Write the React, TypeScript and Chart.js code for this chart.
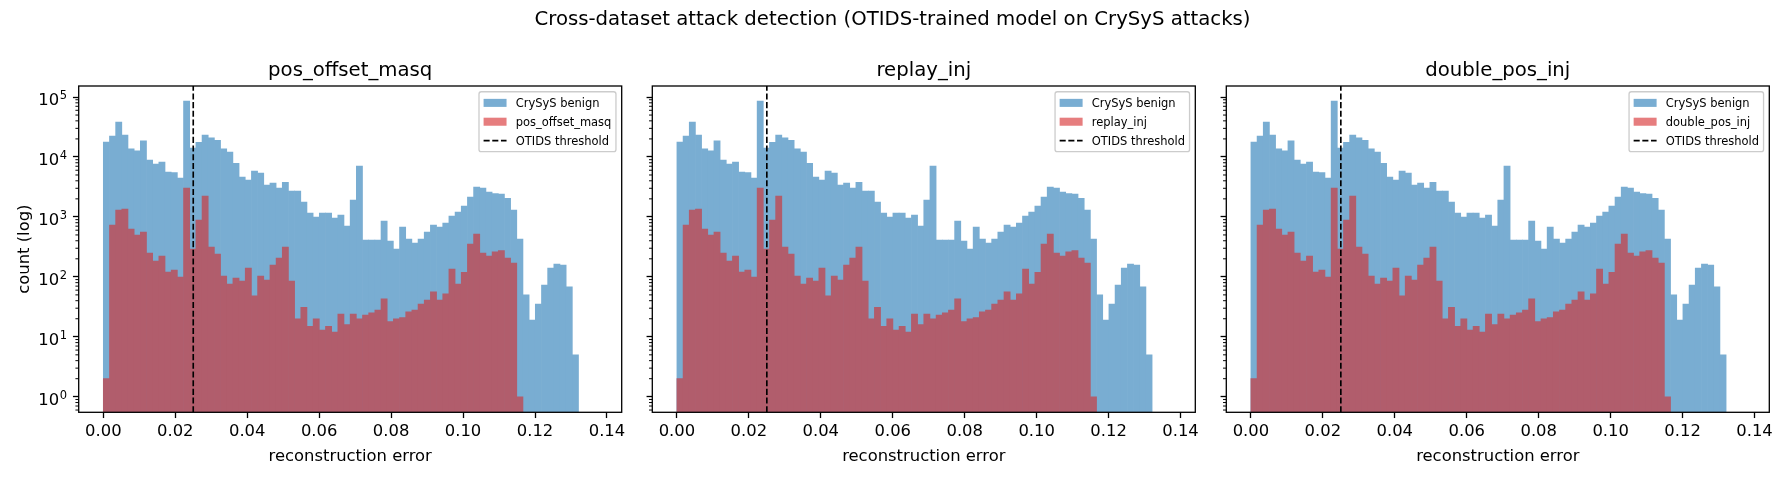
import React, { useEffect, useRef } from 'react';
import { Chart, registerables } from 'chart.js';

Chart.register(...registerables);
Chart.defaults.font.family = '"DejaVu Sans", sans-serif';

// ---- histogram data: 80 equal-width bins over [0, BIN_RANGE_END] ----
const BIN_COUNT = 80;
const BIN_RANGE_END = 0.13724;

const benignCounts = [
  17700, 22300, 38300, 23200, 13600, 12700, 18500, 8890, 7620, 8230,
  5610, 5500, 4450, 85700, 14100, 17500, 23200, 20900, 18900, 13600,
  12100, 7820, 4630, 4120, 5820, 5390, 3400, 3670, 3030, 3770,
  2700, 2700, 1770, 1160, 995, 1160, 1160, 957, 1075, 704,
  1910, 7060, 411, 411, 411, 853, 396, 291, 678, 427,
  367, 427, 559, 731, 678, 790, 1034, 1205, 1518, 2145,
  3150, 3030, 2600, 2440, 2410, 2040, 1300, 427, 50, 19,
  35, 73, 140, 164, 157, 68, 5, 0, 0, 0,
];

const posOffsetMasqCounts = [
  2, 732, 1300, 1350, 628, 498, 559, 250, 183, 222,
  120, 130, 99, 3030, 291, 887, 2230, 314, 240, 103,
  76, 95, 85, 140, 48, 103, 88, 157, 206, 314,
  85, 20, 31, 15, 20, 13, 15, 12, 24, 16,
  24, 20, 23, 25, 28, 43, 18, 20, 21, 26,
  28, 35, 41, 56, 41, 52, 135, 76, 119, 352,
  518, 250, 222, 262, 275, 205, 170, 1, 0, 0,
  0, 0, 0, 0, 0, 0, 0, 0, 0, 0,
];

const replayInjCounts = [
  2, 732, 1300, 1350, 628, 498, 559, 250, 183, 222,
  120, 130, 99, 3030, 291, 887, 2230, 314, 240, 103,
  76, 95, 85, 140, 48, 103, 88, 157, 206, 314,
  85, 20, 31, 15, 20, 13, 15, 12, 24, 16,
  24, 20, 23, 25, 28, 43, 18, 20, 21, 26,
  28, 35, 41, 56, 41, 52, 135, 76, 119, 352,
  518, 250, 222, 262, 275, 205, 170, 1, 0, 0,
  0, 0, 0, 0, 0, 0, 0, 0, 0, 0,
];

const doublePosInjCounts = [
  2, 732, 1300, 1350, 628, 498, 559, 250, 183, 222,
  120, 130, 99, 3030, 291, 887, 2230, 314, 240, 103,
  76, 95, 85, 140, 48, 103, 88, 157, 206, 314,
  85, 20, 31, 15, 20, 13, 15, 12, 24, 16,
  24, 20, 23, 25, 28, 43, 18, 20, 21, 26,
  28, 35, 41, 56, 41, 52, 135, 76, 119, 352,
  518, 250, 222, 262, 275, 205, 170, 1, 0, 0,
  0, 0, 0, 0, 0, 0, 0, 0, 0, 0,
];

const attackNames = ['pos_offset_masq', 'replay_inj', 'double_pos_inj'];
const attackCounts = [posOffsetMasqCounts, replayInjCounts, doublePosInjCounts];

const OTIDS_THRESHOLD = 0.025;

const xTicks = [0, 0.02, 0.04, 0.06, 0.08, 0.1, 0.12, 0.14];
const yTicks = [1, 10, 100, 1000, 10000, 100000];

const SUPTITLE = 'Cross-dataset attack detection (OTIDS-trained model on CrySyS attacks)';
const BENIGN_LABEL = 'CrySyS benign';
const THRESHOLD_LABEL = 'OTIDS threshold';
const X_LABEL = 'reconstruction error';
const Y_LABEL = 'count (log)';

// ---- axis limits ----
const X_MIN = -0.00684;
const X_MAX = 0.1441;
const Y_MIN = 0.55;
const Y_MAX = 1.526e5;

// ---- figure geometry (px) ----
const FIG_W = 1785;
const FIG_H = 478;
const PANEL_LEFTS = [78.7, 652.3, 1226.3];
const PANEL_WIDTH = 543;
const PLOT_TOP = 86;
const PLOT_BOTTOM = 412.3;

const TICK_PX = 16.4;
const SUP_PX = 11.5;
const TITLE_PX = 19.7;
const LEGEND_PX = 11.48;
const MAJOR_TICK_LEN = 5.74;
const MINOR_TICK_LEN = 3.28;
const MAJOR_TICK_W = 1.31;
const MINOR_TICK_W = 0.98;
const SPINE_W = 1.31;

// ---- colours: tab:blue / tab:red at alpha 0.6, pre-blended so adjacent bars show no seams ----
const TAB_BLUE = [31, 119, 180];
const TAB_RED = [214, 39, 40];
const ALPHA = 0.6;
const WHITE = [255, 255, 255];
const blend = (fg: number[], a: number, bg: number[]) => fg.map((c, k) => c * a + bg[k] * (1 - a));
const rgb = (c: number[]) => `rgb(${c.map((v) => Math.round(v)).join(',')})`;
const benignOnWhite = blend(TAB_BLUE, ALPHA, WHITE);
const attackOnBenign = blend(TAB_RED, ALPHA, benignOnWhite);
const benignFill = rgb(benignOnWhite);
const attackFill = rgb(attackOnBenign);
const benignLegend = `rgba(${TAB_BLUE.join(',')},${ALPHA})`;
const attackLegend = `rgba(${TAB_RED.join(',')},${ALPHA})`;

const font = (px: number) => `${px}px "DejaVu Sans", sans-serif`;

function drawLegend(ctx: CanvasRenderingContext2D, area: any, attackLabel: string) {
  const fs = LEGEND_PX;
  ctx.font = font(fs);
  const labels = [BENIGN_LABEL, attackLabel, THRESHOLD_LABEL];
  const textW = Math.max(...labels.map((l) => ctx.measureText(l).width));
  const pad = 0.4 * fs;
  const handleLen = 2 * fs;
  const handleGap = 0.8 * fs;
  const rowH = 13.1;
  const rowGap = 0.5 * fs;
  const w = pad * 2 + handleLen + handleGap + textW;
  const h = pad * 2 + rowH * 3 + rowGap * 2;
  const right = area.right - 0.5 * fs;
  const top = area.top + 0.5 * fs;
  const left = right - w;

  ctx.beginPath();
  ctx.roundRect(left, top, w, h, 0.2 * fs);
  ctx.fillStyle = 'rgba(255,255,255,0.8)';
  ctx.fill();
  ctx.strokeStyle = '#cccccc';
  ctx.lineWidth = 1.3;
  ctx.stroke();

  const hx = left + pad;
  const tx = hx + handleLen + handleGap;
  labels.forEach((label, k) => {
    const cy = top + pad + rowH / 2 + k * (rowH + rowGap);
    if (k < 2) {
      ctx.fillStyle = k === 0 ? benignLegend : attackLegend;
      ctx.fillRect(hx, cy - 0.35 * fs, handleLen, 0.7 * fs);
    } else {
      ctx.save();
      ctx.strokeStyle = '#000';
      ctx.lineWidth = 1.64;
      ctx.setLineDash([6.07, 2.62]);
      ctx.beginPath();
      ctx.moveTo(hx, cy);
      ctx.lineTo(hx + handleLen, cy);
      ctx.stroke();
      ctx.restore();
    }
    ctx.fillStyle = '#000';
    ctx.textAlign = 'left';
    ctx.textBaseline = 'alphabetic';
    ctx.fillText(label, tx, cy + 4.2);
  });
}

function decorPlugin(panel: number) {
  return {
    id: `decor${panel}`,
    afterDraw(chart: any) {
      const { ctx, chartArea: a } = chart;
      const yScale = chart.scales.y;
      const cx = (a.left + a.right) / 2;
      ctx.save();
      ctx.strokeStyle = '#000';
      ctx.fillStyle = '#000';

      // minor ticks of the log axis
      ctx.lineWidth = MINOR_TICK_W;
      for (let e = -1; e <= 5; e++) {
        for (let m = 2; m <= 9; m++) {
          const v = m * Math.pow(10, e);
          if (v < Y_MIN || v > Y_MAX) continue;
          const py = yScale.getPixelForValue(v);
          ctx.beginPath();
          ctx.moveTo(a.left, py);
          ctx.lineTo(a.left - MINOR_TICK_LEN, py);
          ctx.stroke();
        }
      }

      // axes frame
      ctx.lineWidth = SPINE_W;
      ctx.strokeRect(a.left, a.top, a.right - a.left, a.bottom - a.top);

      ctx.textBaseline = 'alphabetic';
      ctx.textAlign = 'center';
      ctx.font = font(TITLE_PX);
      ctx.fillText(attackNames[panel], cx, a.top - 9.84);

      ctx.font = font(TICK_PX);
      ctx.fillText(X_LABEL, cx, 461);

      if (panel === 0) {
        // decade labels as 10 with a raised exponent
        ctx.textAlign = 'right';
        const labelRight = a.left - MAJOR_TICK_LEN - 6;
        yTicks.forEach((v) => {
          const py = yScale.getPixelForValue(v);
          const base = py + 8.4;
          const exp = String(Math.round(Math.log10(v)));
          ctx.font = font(SUP_PX);
          const supW = ctx.measureText(exp).width;
          ctx.fillText(exp, labelRight, base - 6.3);
          ctx.font = font(TICK_PX);
          ctx.fillText('10', labelRight - supW - 0.5, base);
        });

        ctx.save();
        ctx.translate(28.5, (a.top + a.bottom) / 2);
        ctx.rotate(-Math.PI / 2);
        ctx.textAlign = 'center';
        ctx.font = font(TICK_PX);
        ctx.fillText(Y_LABEL, 0, 0);
        ctx.restore();

        ctx.textAlign = 'center';
        ctx.font = font(TITLE_PX);
        ctx.fillText(SUPTITLE, FIG_W / 2, 24.6);
      }

      drawLegend(ctx, a, attackNames[panel]);
      ctx.restore();
    },
  };
}

function buildConfig(panel: number): any {
  const binWidth = BIN_RANGE_END / BIN_COUNT;
  const toPoints = (counts: number[]) =>
    counts.map((c, k) => ({ x: (k + 0.5) * binWidth, y: c > 0 ? c : null }));
  const left = PANEL_LEFTS[panel];

  return {
    type: 'bar',
    data: {
      datasets: [
        {
          type: 'line',
          label: THRESHOLD_LABEL,
          data: [
            { x: OTIDS_THRESHOLD, y: Y_MIN },
            { x: OTIDS_THRESHOLD, y: Y_MAX },
          ],
          borderColor: '#000',
          borderWidth: 1.64,
          borderDash: [6.07, 2.62],
          pointRadius: 0,
          fill: false,
          order: 0,
        },
        {
          label: attackNames[panel],
          data: toPoints(attackCounts[panel]),
          backgroundColor: attackFill,
          order: 1,
        },
        {
          label: BENIGN_LABEL,
          data: toPoints(benignCounts),
          backgroundColor: benignFill,
          order: 2,
        },
      ],
    },
    options: {
      responsive: false,
      animation: false,
      events: [],
      layout: {
        padding: {
          left,
          right: FIG_W - left - PANEL_WIDTH,
          top: PLOT_TOP,
          bottom: 0,
        },
      },
      datasets: {
        bar: { grouped: false, barPercentage: 1, categoryPercentage: 1, borderWidth: 0 },
      },
      plugins: {
        legend: { display: false },
        tooltip: { enabled: false },
        title: { display: false },
      },
      scales: {
        x: {
          type: 'linear',
          min: X_MIN,
          max: X_MAX,
          offset: false,
          afterFit: (s: any) => {
            s.height = FIG_H - PLOT_BOTTOM;
          },
          afterBuildTicks: (s: any) => {
            s.ticks = xTicks.map((v) => ({ value: v }));
          },
          grid: {
            drawOnChartArea: false,
            drawTicks: true,
            tickLength: MAJOR_TICK_LEN,
            tickWidth: MAJOR_TICK_W,
            tickColor: '#000',
            offset: false,
          },
          border: { display: false },
          ticks: {
            autoSkip: false,
            maxRotation: 0,
            minRotation: 0,
            padding: 3.4,
            color: '#000',
            font: { size: TICK_PX, family: '"DejaVu Sans", sans-serif' },
            callback: (v: number) => Number(v).toFixed(2),
          },
        },
        y: {
          type: 'logarithmic',
          min: Y_MIN,
          max: Y_MAX,
          afterFit: (s: any) => {
            s.width = 0;
          },
          afterBuildTicks: (s: any) => {
            s.ticks = yTicks.map((v) => ({ value: v }));
          },
          grid: {
            drawOnChartArea: false,
            drawTicks: true,
            tickLength: MAJOR_TICK_LEN,
            tickWidth: MAJOR_TICK_W,
            tickColor: '#000',
          },
          border: { display: false },
          ticks: { display: false },
        },
      },
    },
    plugins: [decorPlugin(panel)],
  };
}

function Panel({ panel }: { panel: number }) {
  const ref = useRef<HTMLCanvasElement>(null);
  useEffect(() => {
    const chart = new Chart(ref.current as HTMLCanvasElement, buildConfig(panel));
    return () => chart.destroy();
  }, [panel]);
  return (
    <canvas
      ref={ref}
      width={FIG_W}
      height={FIG_H}
      style={{ position: 'absolute', left: 0, top: 0, width: FIG_W, height: FIG_H }}
    />
  );
}

export default function App() {
  useEffect(() => {
    document.body.style.margin = '0';
  }, []);
  return (
    <div style={{ position: 'relative', width: FIG_W, height: FIG_H, background: '#fff' }}>
      {[0, 1, 2].map((p) => (
        <Panel key={p} panel={p} />
      ))}
    </div>
  );
}
